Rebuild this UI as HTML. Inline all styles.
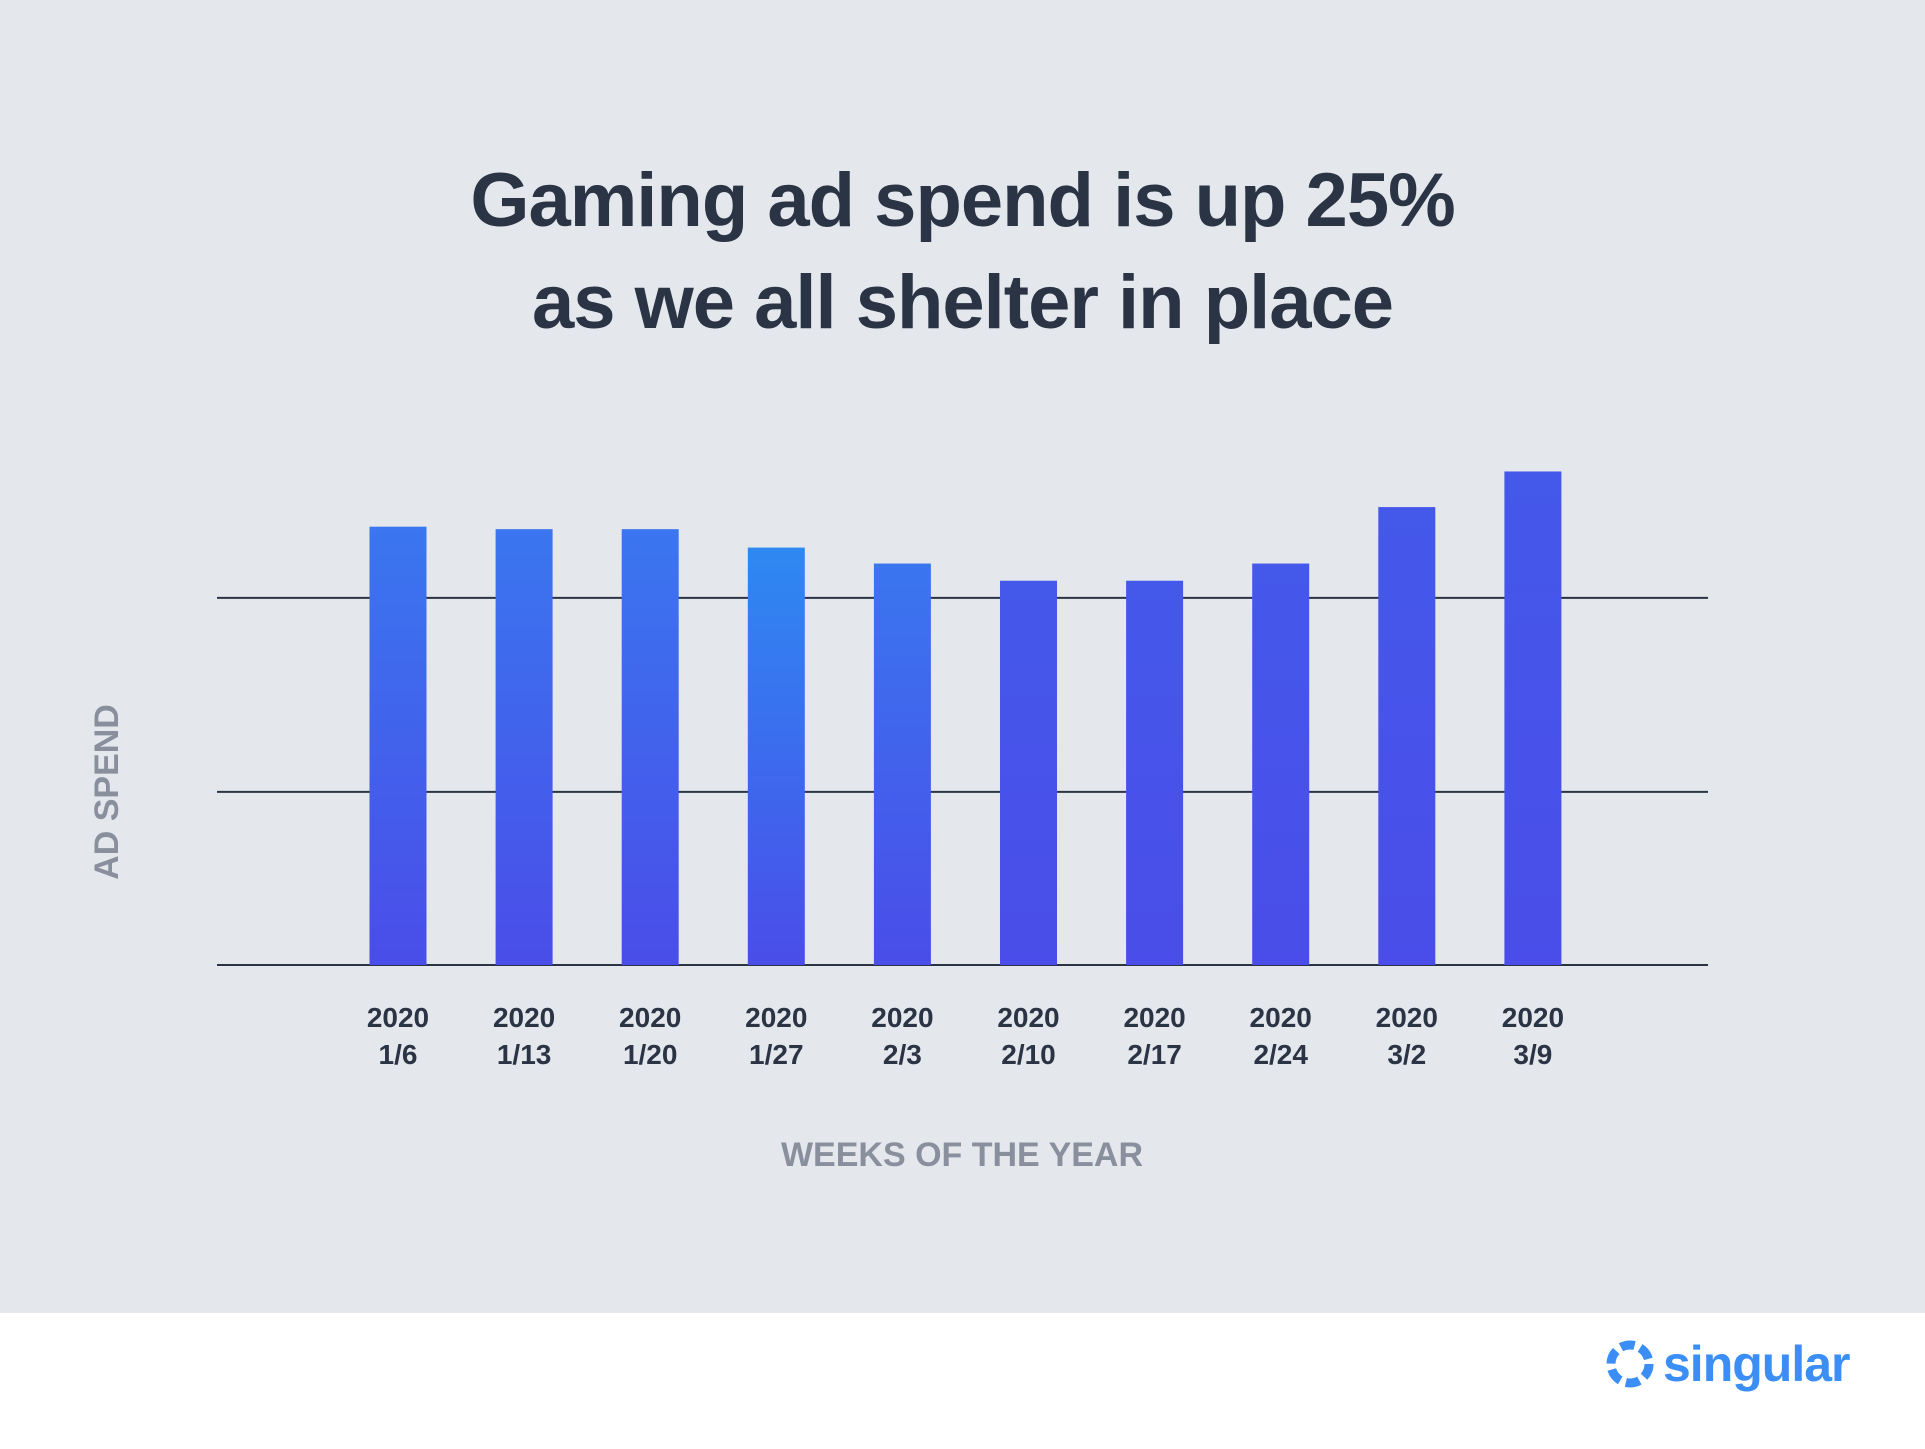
<!DOCTYPE html>
<html><head><meta charset="utf-8"><style>
html,body{margin:0;padding:0;}
body{width:1925px;height:1449px;position:relative;background:#fff;font-family:"Liberation Sans",sans-serif;overflow:hidden;}
#bg{position:absolute;left:0;top:0;width:1925px;height:1313px;background:#e4e7ec;}
#title{position:absolute;left:0;width:1925px;top:150px;text-align:center;font-weight:bold;font-size:76px;line-height:102px;color:#2b3445;letter-spacing:-1px;}
#logo{position:absolute;left:1605px;top:1335px;display:flex;align-items:center;}
#logo span{font-size:50px;font-weight:bold;color:#3a8ef5;margin-left:8px;letter-spacing:-1px;}
svg#chart{position:absolute;left:0;top:0;}
</style></head><body>
<div id="bg"></div>
<div id="title">Gaming ad spend is up 25%<br>as we all shelter in place</div>
<svg id="chart" width="1925" height="1313">
<defs>
<linearGradient id="g0" x1="0" y1="0" x2="0" y2="1"><stop offset="0" stop-color="#3a76ef"/><stop offset="1" stop-color="#4a4de9"/></linearGradient>
<linearGradient id="g1" x1="0" y1="0" x2="0" y2="1"><stop offset="0" stop-color="#2e89f2"/><stop offset="1" stop-color="#4a4de9"/></linearGradient>
<linearGradient id="g2" x1="0" y1="0" x2="0" y2="1"><stop offset="0" stop-color="#4458ea"/><stop offset="1" stop-color="#4a4de9"/></linearGradient>
</defs>
<g id="grid"></g><g id="bars"></g><g id="ticks"></g>
<text x="0" y="0" transform="translate(118,792) rotate(-90)" text-anchor="middle" font-family="Liberation Sans, sans-serif" font-weight="bold" font-size="34" fill="#8a8f9e">AD SPEND</text>
<text x="962" y="1166" text-anchor="middle" font-family="Liberation Sans, sans-serif" font-weight="bold" font-size="34" fill="#8a8f9e">WEEKS OF THE YEAR</text>
</svg>
<div id="logo">
<svg width="50" height="50" viewBox="-25 -25 50 50">
<circle r="19" fill="none" stroke="#3a8ef5" stroke-width="9" stroke-dasharray="14 6"/>
</svg><span>singular</span></div>
<script>
const categories=["1/6","1/13","1/20","1/27","2/3","2/10","2/17","2/24","3/2","3/9"];
const values=[357,355,355,340,327,313,313,327,373,402];
const gridValues=[0,141,299];
const yearLabel="2020";
const ns="http://www.w3.org/2000/svg";
const baseY=965,pxPerUnit=1.2277,x0=398,step=126.1,barW=57;
function yScale(v){return baseY-v*pxPerUnit;}
function xScale(i){return x0+i*step;}
const grid=document.getElementById('grid');
gridValues.forEach((v,i)=>{
 const l=document.createElementNS(ns,'line');
 l.setAttribute('x1',217);l.setAttribute('x2',1708);
 l.setAttribute('y1',yScale(v));l.setAttribute('y2',yScale(v));
 l.setAttribute('stroke','#2b3445');l.setAttribute('stroke-width','2');
 
 
 grid.appendChild(l);
});
const bars=document.getElementById('bars'),ticks=document.getElementById('ticks');
categories.forEach((c,i)=>{
 const r=document.createElementNS(ns,'rect');
 const y=yScale(values[i]);
 r.setAttribute('x',xScale(i)-barW/2);r.setAttribute('y',y);
 r.setAttribute('width',barW);r.setAttribute('height',baseY-y);
 r.setAttribute('fill',i==3?'url(#g1)':(i<5?'url(#g0)':'url(#g2)'));
 
 
 bars.appendChild(r);
 const t=document.createElementNS(ns,'text');
 t.setAttribute('x',xScale(i));t.setAttribute('y',1027);
 t.setAttribute('text-anchor','middle');t.setAttribute('font-family','Liberation Sans, sans-serif');
 t.setAttribute('font-weight','bold');t.setAttribute('font-size','28');t.setAttribute('fill','#2b3445');
 
 
 const s1=document.createElementNS(ns,'tspan');s1.setAttribute('x',xScale(i));s1.textContent=yearLabel;
 const s2=document.createElementNS(ns,'tspan');s2.setAttribute('x',xScale(i));s2.setAttribute('dy','37');s2.textContent=c;
 t.appendChild(s1);t.appendChild(s2);ticks.appendChild(t);
});
</script>
</body></html>
